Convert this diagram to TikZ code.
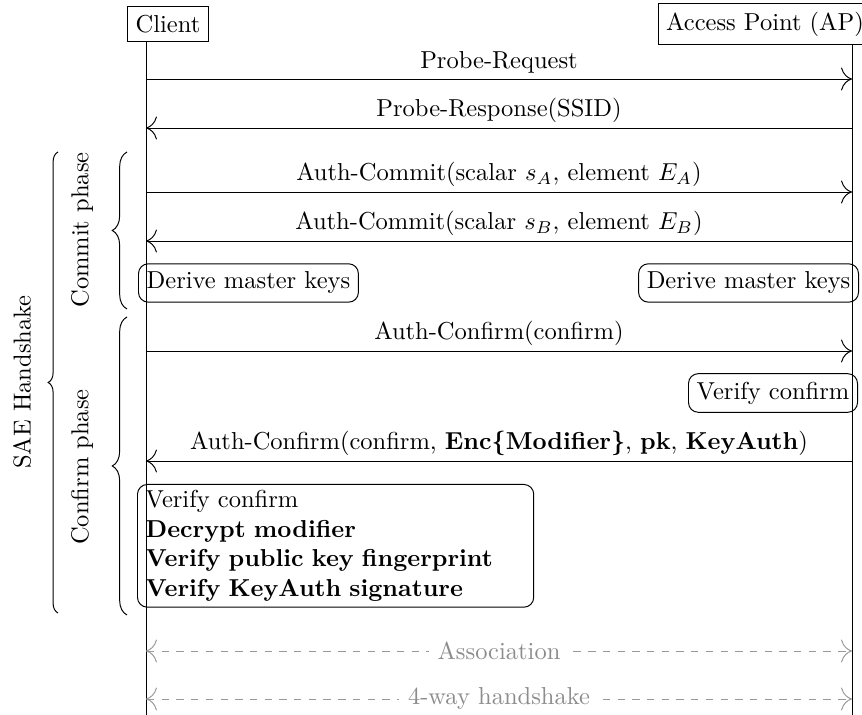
\documentclass[tikz,border=0pt]{standalone}
\usepackage{fontspec}
\usetikzlibrary{decorations.pathreplacing,arrows.meta}
\begin{document}
\begin{tikzpicture}[x=0.408pt,y=-0.408pt,
  actor/.style={draw},
  msg/.style={-{To[scale=1.8]}},
  mlbl/.style={above, inner sep=2pt},
  act/.style={draw, rounded corners=4pt},
  optarrow/.style={{To[scale=1.8]}-{To[scale=1.8]}, dashed, black!40},
  optlbl/.style={fill=white, text=black!45, inner sep=3.5pt},
  brc/.style={decorate, decoration={brace, amplitude=#1}},
  phase/.style={rotate=90}]
\useasboundingbox (0,0) rectangle (862,715);

% actors
\node[actor] (client) at (168,24) {Client};
\node[actor] (ap) at (765,24) {Access Point (AP)};

% lifelines
\coordinate (cEnd) at (146,715);
\coordinate (aEnd) at (852,715);
\draw (client.south -| cEnd) -- (cEnd);
\draw (ap.south -| aEnd) -- (aEnd);

% messages
\coordinate (c1) at (146,79);  \coordinate (a1) at (852,79);
\coordinate (c2) at (146,128); \coordinate (a2) at (852,128);
\coordinate (c3) at (146,192); \coordinate (a3) at (852,192);
\coordinate (c4) at (146,241); \coordinate (a4) at (852,241);
\coordinate (c5) at (146,351); \coordinate (a5) at (852,351);
\coordinate (c6) at (146,461); \coordinate (a6) at (852,461);
\coordinate (c7) at (146,651); \coordinate (a7) at (852,651);
\coordinate (c8) at (146,699); \coordinate (a8) at (852,699);

\draw[msg] (c1) -- node[mlbl] (m1) {Probe-Request} (a1);
\draw[msg] (a2) -- node[mlbl] (m2) {Probe-Response(SSID)} (c2);
\draw[msg] (c3) -- node[mlbl] (m3) {Auth-Commit(scalar $s_A$, element $E_A$)} (a3);
\draw[msg] (a4) -- node[mlbl] (m4) {Auth-Commit(scalar $s_B$, element $E_B$)} (c4);
\draw[msg] (c5) -- node[mlbl] (m5) {Auth-Confirm(confirm)} (a5);
\draw[msg] (a6) -- node[mlbl] (m6) {Auth-Confirm(confirm, \textbf{Enc\{Modifier\}}, \textbf{pk}, \textbf{KeyAuth})} (c6);

% actions
\node[act, anchor=west] (dkc) at (138,283) {Derive master keys};
\node[act, anchor=east] (dka) at (859,283) {Derive master keys};
\node[act, anchor=east] (vca) at (858,393) {Verify confirm};
\node[act, anchor=north west, align=left, text width=155pt, inner ysep=2.5pt] (vcc) at (137,484)
  {Verify confirm\\ \textbf{Decrypt modifier}\\ \textbf{Verify public key fingerprint}\\ \textbf{Verify KeyAuth signature}};

% optional steps
\draw[optarrow] (c7) -- node[optlbl] (assoc) {Association} (a7);
\draw[optarrow] (c8) -- node[optlbl] (fourway) {4-way handshake} (a8);

% braces
\coordinate (sB) at (58,613); \coordinate (sT) at (58,152);
\coordinate (cmB) at (127,309); \coordinate (cmT) at (127,152);
\coordinate (cfB) at (127,615); \coordinate (cfT) at (127,317);
\draw[brc=4pt] (sB) -- (sT);
\draw[brc=6pt] (cmB) -- (cmT);
\draw[brc=6pt] (cfB) -- (cfT);
\node[phase] (sae) at (22,382) {SAE Handshake};
\node[phase] (commit) at (82,230) {Commit phase};
\node[phase] (confirm) at (82,467) {Confirm phase};
\end{tikzpicture}
\end{document}
